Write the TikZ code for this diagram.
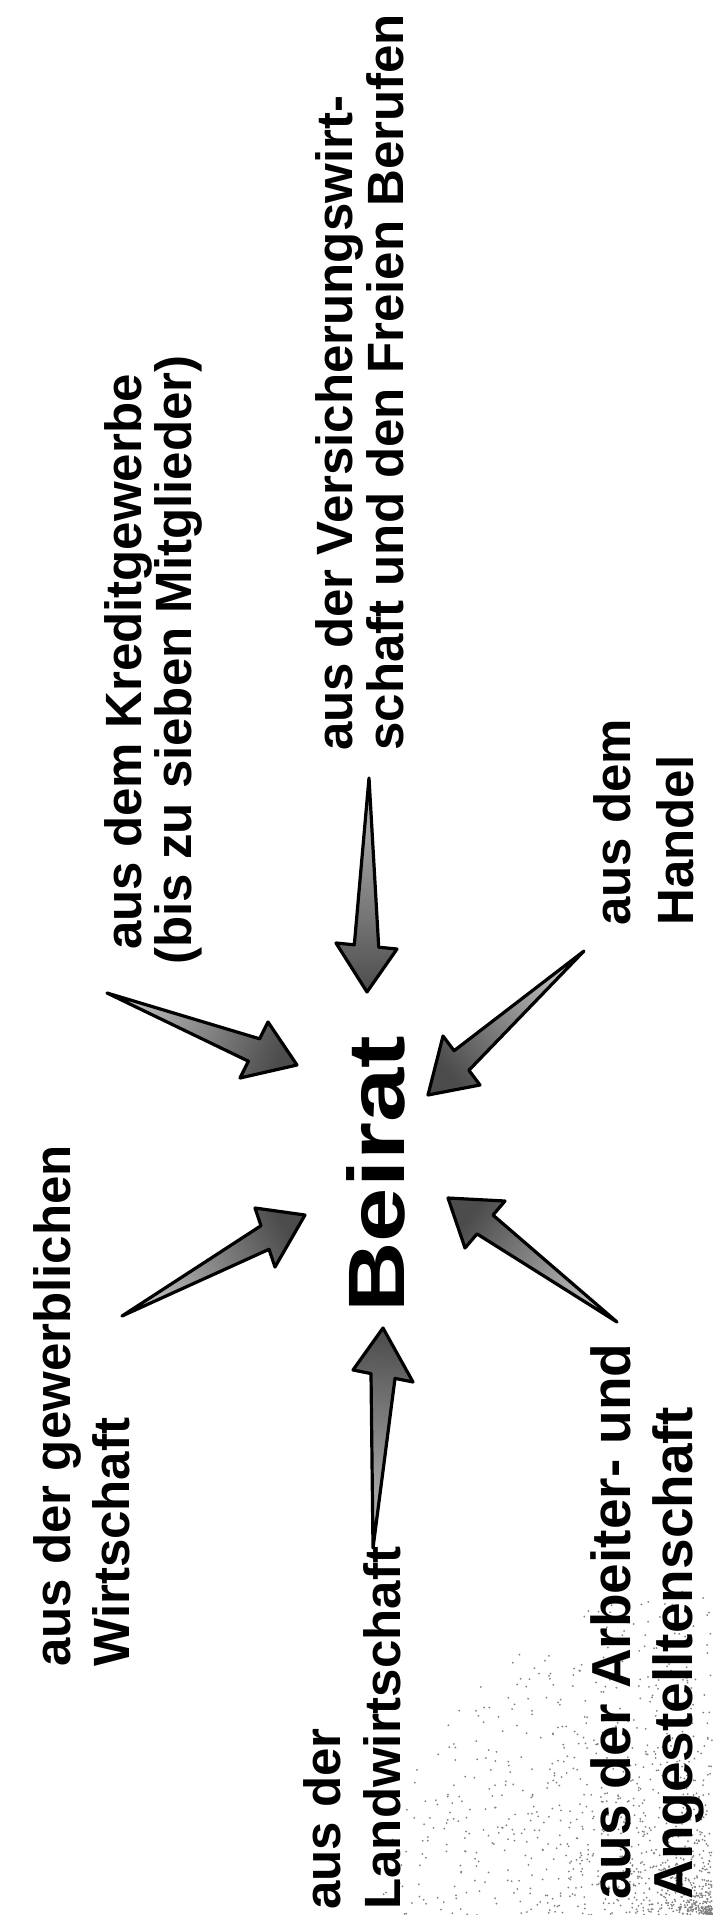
\documentclass[tikz,border=0pt]{standalone}
\usepackage{fontspec}
\setmainfont{Liberation Sans}
\usetikzlibrary{calc}
\newcommand\fatarr[2]{\draw[fat,shading angle=#2] (#1T) -- ($(#1A)!0.3!(#1B)$) -- (#1A) -- (#1P) -- (#1B) -- ($(#1A)!0.7!(#1B)$) -- cycle;}
\begin{document}
\begin{tikzpicture}[x=0.5pt,y=-0.5pt,
  lbl/.style={rotate=90,anchor=base west,inner sep=0pt,font=\fontsize{25.5}{30}\selectfont\bfseries},
  biglbl/.style={lbl,font=\fontsize{27.5}{30}\selectfont\bfseries},
  fat/.style={draw=black,line width=1.6pt,line join=round,top color=black!70,bottom color=black!25}]
\useasboundingbox (0,0) rectangle (712,1915);
% scan noise in the lower right corner
\pgfmathsetseed{7}
\foreach \i in {1,...,1100}{
  \pgfmathsetmacro\rr{330*rnd^1.4}
  \pgfmathsetmacro\aa{90+90*rnd}
  \fill[black!50] ({712+\rr*cos(\aa)},{1915-\rr*sin(\aa)}) circle (1);
}
% labels
\node[lbl] (gew1) at (70,1667) {aus der gewerblichen};
\node[lbl] (gew2) at (129,1667) {Wirtschaft};
\node[lbl] (kre1) at (141,950) {aus dem Kreditgewerbe};
\node[lbl] (kre2) at (191,965) {(bis zu sieben Mitglieder)};
\node[lbl] (ver1) at (352,751) {aus der Versicherungswirt-};
\node[lbl] (ver2) at (403,751) {schaft und den Freien Berufen};
\node[lbl] (han1) at (630,926) {aus dem};
\node[lbl] (han2) at (693,926) {Handel};
\node[lbl] (lan1) at (340,1910) {aus der};
\node[lbl] (lan2) at (400,1910) {Landwirtschaft};
\node[biglbl] (arb1) at (630,1900) {aus der Arbeiter- und};
\node[biglbl] (arb2) at (692,1900) {Angestelltenschaft};
\node[rotate=90,anchor=base west,inner sep=0pt,font=\fontsize{40}{42}\selectfont\bfseries] (beirat) at (404,1313) {\scalebox{1.22}[1]{Beirat}};
% arrows
\coordinate (gewT) at (122,1316); \coordinate (gewP) at (305,1215);
\coordinate (gewA) at (255,1208); \coordinate (gewB) at (275,1267);
\coordinate (kreT) at (107,993);  \coordinate (kreP) at (297,1065);
\coordinate (kreA) at (268,1022); \coordinate (kreB) at (240,1078);
\coordinate (verT) at (369,778);  \coordinate (verP) at (367,992);
\coordinate (verA) at (336,943);  \coordinate (verB) at (397,949);
\coordinate (hanT) at (584,951);  \coordinate (hanP) at (428,1095);
\coordinate (hanA) at (443,1036); \coordinate (hanB) at (480,1085);
\coordinate (lanT) at (373,1548); \coordinate (lanP) at (383,1328);
\coordinate (lanA) at (353,1370); \coordinate (lanB) at (413,1382);
\coordinate (arbT) at (617,1322); \coordinate (arbP) at (448,1198);
\coordinate (arbA) at (505,1201); \coordinate (arbB) at (465,1248);
\fatarr{gew}{-61}
\fatarr{kre}{-111}
\fatarr{ver}{-180}
\fatarr{han}{133}
\fatarr{lan}{-3}
\fatarr{arb}{54}
\end{tikzpicture}
\end{document}
